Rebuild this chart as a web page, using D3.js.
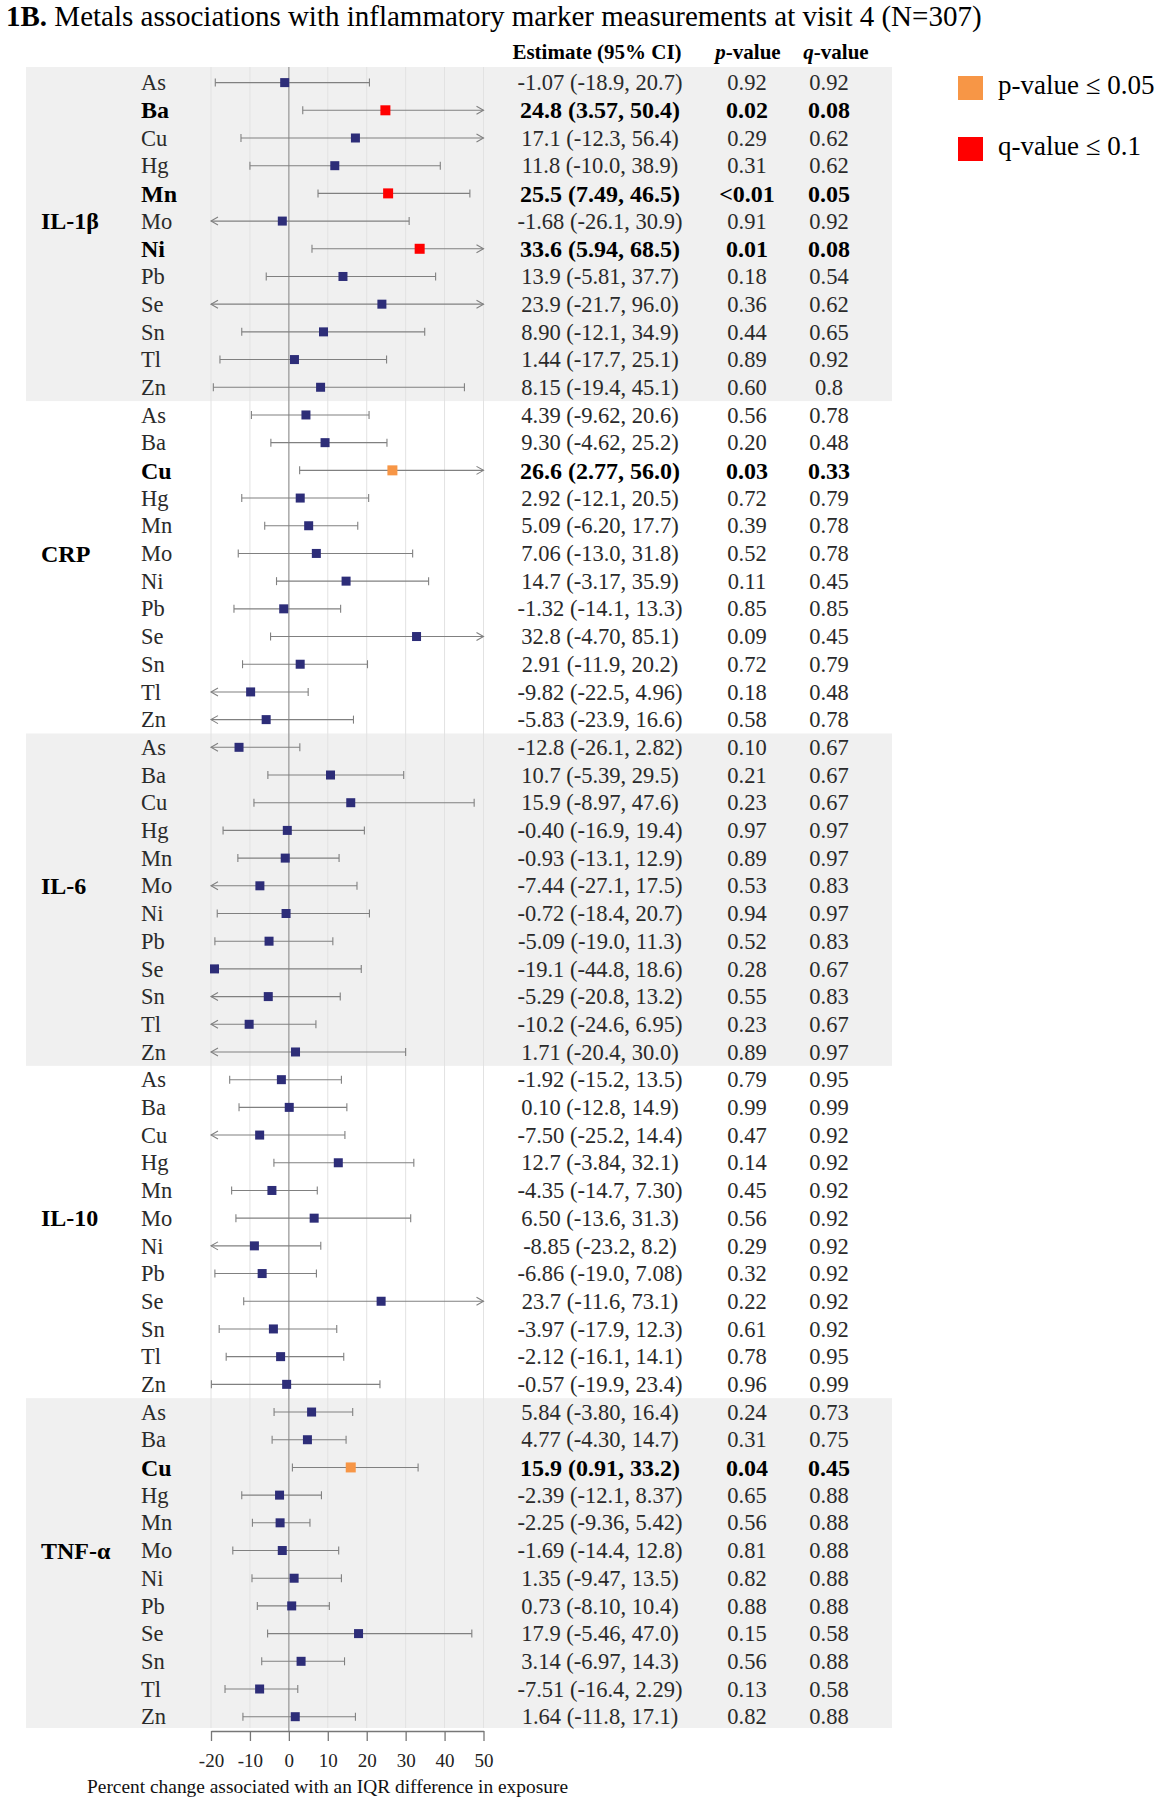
<!DOCTYPE html>
<html>
<head>
<meta charset="utf-8">
<script src="https://cdn.jsdelivr.net/npm/d3@7"></script>
<style>
  html, body { margin: 0; padding: 0; background: #fff; }
  svg { display: block; }
  text { font-family: "Liberation Serif", "Times New Roman", serif; }
</style>
</head>
<body>
<svg id="chart" width="1159" height="1800"></svg>
<script>
// ---------- DATA ----------
const markers = ["IL-1β", "CRP", "IL-6", "IL-10", "TNF-α"];
const metals = ["As", "Ba", "Cu", "Hg", "Mn", "Mo", "Ni", "Pb", "Se", "Sn", "Tl", "Zn"];
const shadedMarkers = ["IL-1β", "IL-6", "TNF-α"];

const estimates = [
  ["-1.07", "24.8", "17.1", "11.8", "25.5", "-1.68", "33.6", "13.9", "23.9", "8.90", "1.44", "8.15"],
  ["4.39", "9.30", "26.6", "2.92", "5.09", "7.06", "14.7", "-1.32", "32.8", "2.91", "-9.82", "-5.83"],
  ["-12.8", "10.7", "15.9", "-0.40", "-0.93", "-7.44", "-0.72", "-5.09", "-19.1", "-5.29", "-10.2", "1.71"],
  ["-1.92", "0.10", "-7.50", "12.7", "-4.35", "6.50", "-8.85", "-6.86", "23.7", "-3.97", "-2.12", "-0.57"],
  ["5.84", "4.77", "15.9", "-2.39", "-2.25", "-1.69", "1.35", "0.73", "17.9", "3.14", "-7.51", "1.64"]
];
const lowers = [
  ["-18.9", "3.57", "-12.3", "-10.0", "7.49", "-26.1", "5.94", "-5.81", "-21.7", "-12.1", "-17.7", "-19.4"],
  ["-9.62", "-4.62", "2.77", "-12.1", "-6.20", "-13.0", "-3.17", "-14.1", "-4.70", "-11.9", "-22.5", "-23.9"],
  ["-26.1", "-5.39", "-8.97", "-16.9", "-13.1", "-27.1", "-18.4", "-19.0", "-44.8", "-20.8", "-24.6", "-20.4"],
  ["-15.2", "-12.8", "-25.2", "-3.84", "-14.7", "-13.6", "-23.2", "-19.0", "-11.6", "-17.9", "-16.1", "-19.9"],
  ["-3.80", "-4.30", "0.91", "-12.1", "-9.36", "-14.4", "-9.47", "-8.10", "-5.46", "-6.97", "-16.4", "-11.8"]
];
const uppers = [
  ["20.7", "50.4", "56.4", "38.9", "46.5", "30.9", "68.5", "37.7", "96.0", "34.9", "25.1", "45.1"],
  ["20.6", "25.2", "56.0", "20.5", "17.7", "31.8", "35.9", "13.3", "85.1", "20.2", "4.96", "16.6"],
  ["2.82", "29.5", "47.6", "19.4", "12.9", "17.5", "20.7", "11.3", "18.6", "13.2", "6.95", "30.0"],
  ["13.5", "14.9", "14.4", "32.1", "7.30", "31.3", "8.2", "7.08", "73.1", "12.3", "14.1", "23.4"],
  ["16.4", "14.7", "33.2", "8.37", "5.42", "12.8", "13.5", "10.4", "47.0", "14.3", "2.29", "17.1"]
];
const pValues = [
  ["0.92", "0.02", "0.29", "0.31", "<0.01", "0.91", "0.01", "0.18", "0.36", "0.44", "0.89", "0.60"],
  ["0.56", "0.20", "0.03", "0.72", "0.39", "0.52", "0.11", "0.85", "0.09", "0.72", "0.18", "0.58"],
  ["0.10", "0.21", "0.23", "0.97", "0.89", "0.53", "0.94", "0.52", "0.28", "0.55", "0.23", "0.89"],
  ["0.79", "0.99", "0.47", "0.14", "0.45", "0.56", "0.29", "0.32", "0.22", "0.61", "0.78", "0.96"],
  ["0.24", "0.31", "0.04", "0.65", "0.56", "0.81", "0.82", "0.88", "0.15", "0.56", "0.13", "0.82"]
];
const qValues = [
  ["0.92", "0.08", "0.62", "0.62", "0.05", "0.92", "0.08", "0.54", "0.62", "0.65", "0.92", "0.8"],
  ["0.78", "0.48", "0.33", "0.79", "0.78", "0.78", "0.45", "0.85", "0.45", "0.79", "0.48", "0.78"],
  ["0.67", "0.67", "0.67", "0.97", "0.97", "0.83", "0.97", "0.83", "0.67", "0.83", "0.67", "0.97"],
  ["0.95", "0.99", "0.92", "0.92", "0.92", "0.92", "0.92", "0.92", "0.92", "0.92", "0.95", "0.99"],
  ["0.73", "0.75", "0.45", "0.88", "0.88", "0.88", "0.88", "0.88", "0.58", "0.88", "0.58", "0.88"]
];
const xTicks = [-20, -10, 0, 10, 20, 30, 40, 50];
const legendItems = ["p-value ≤ 0.05", "q-value ≤ 0.1"];

// ---------- BUILD ROWS ----------
const parseP = s => s.startsWith("<") ? +s.slice(1) / 2 : +s;
const rows = [];
markers.forEach((m, gi) => {
  metals.forEach((metal, mi) => {
    const p = parseP(pValues[gi][mi]);
    const q = +qValues[gi][mi];
    rows.push({
      marker: m, gi, mi, metal,
      est: +estimates[gi][mi], lo: +lowers[gi][mi], hi: +uppers[gi][mi],
      estText: `${estimates[gi][mi]} (${lowers[gi][mi]}, ${uppers[gi][mi]})`,
      pText: pValues[gi][mi], qText: qValues[gi][mi],
      sig: p <= 0.05,
      cls: q <= 0.1 ? "q" : (p <= 0.05 ? "p" : "n")
    });
  });
});
rows.forEach((r, i) => r.idx = i);

// ---------- SCALES ----------
const x = d3.scaleLinear().domain([-20, 50]).range([211, 483.5]);
const y = d3.scaleLinear().domain([0, rows.length - 1]).range([82.6, 1716.7]);
const rowH = y(1) - y(0);
const colour = { q: "#ff0000", p: "#f79646", n: "#2d2d78" };
const lineCol = "#808080";

const svg = d3.select("#chart");
svg.append("rect").attr("width", 1159).attr("height", 1800).attr("fill", "#fff");

// ---------- BANDS ----------
const bandTop = 67, bandBottom = 1728;
const groupExtent = markers.map((m, gi) => {
  const first = gi * metals.length, last = first + metals.length - 1;
  return {
    m,
    top: gi === 0 ? bandTop : y(first) - rowH / 2,
    bottom: gi === markers.length - 1 ? bandBottom : y(last) + rowH / 2
  };
});
svg.append("g").selectAll("rect")
  .data(groupExtent.filter(g => shadedMarkers.includes(g.m)))
  .join("rect")
  .attr("x", 26).attr("width", 892 - 26)
  .attr("y", d => d.top).attr("height", d => d.bottom - d.top)
  .attr("fill", "#f0f0f0");

// ---------- GRID ----------
svg.append("g").selectAll("line")
  .data(xTicks.filter(t => t !== 0))
  .join("line")
  .attr("x1", d => x(d)).attr("x2", d => x(d))
  .attr("y1", bandTop).attr("y2", bandBottom)
  .attr("stroke", "#e2e2e2").attr("stroke-width", 1);

// zero line
svg.append("line")
  .attr("x1", x(0)).attr("x2", x(0))
  .attr("y1", bandTop).attr("y2", 1731)
  .attr("stroke", "#9a9a9a").attr("stroke-width", 1.3);

// ---------- CI LINES ----------
const [dMin, dMax] = x.domain();
const ci = svg.append("g").attr("stroke", lineCol).attr("stroke-width", 1.1).attr("fill", "none");
rows.forEach(r => {
  const yy = y(r.idx);
  const l = Math.max(r.lo, dMin), h = Math.min(r.hi, dMax);
  ci.append("line").attr("x1", x(l)).attr("x2", x(h)).attr("y1", yy).attr("y2", yy);
  if (r.lo < dMin) {
    ci.append("path").attr("d", `M${x(dMin) + 7},${yy - 4}L${x(dMin)},${yy}L${x(dMin) + 7},${yy + 4}`);
  } else {
    ci.append("line").attr("x1", x(l)).attr("x2", x(l)).attr("y1", yy - 4).attr("y2", yy + 4);
  }
  if (r.hi > dMax) {
    ci.append("path").attr("d", `M${x(dMax) - 7},${yy - 4}L${x(dMax)},${yy}L${x(dMax) - 7},${yy + 4}`);
  } else {
    ci.append("line").attr("x1", x(h)).attr("x2", x(h)).attr("y1", yy - 4).attr("y2", yy + 4);
  }
});

// ---------- POINTS ----------
svg.append("g").selectAll("rect")
  .data(rows)
  .join("rect")
  .attr("width", d => d.cls === "n" ? 9 : 10)
  .attr("height", d => d.cls === "n" ? 9 : 10)
  .attr("x", d => x(d.est) - (d.cls === "n" ? 4.5 : 5))
  .attr("y", d => y(d.idx) - (d.cls === "n" ? 4.5 : 5))
  .attr("fill", d => colour[d.cls]);

// ---------- TEXT COLUMNS ----------
const fsReg = 22.5, fsBold = 24;
const tg = svg.append("g");
function styleText(sel) {
  return sel
    .attr("y", d => y(d.idx)).attr("dy", "0.34em")
    .attr("font-weight", d => d.sig ? "bold" : "normal")
    .attr("font-size", d => d.sig ? fsBold : fsReg)
    .attr("fill", d => d.sig ? "#000" : "#2a2a2a");
}
// metal labels
styleText(tg.selectAll("text.metal").data(rows).join("text").attr("class", "metal")
  .attr("x", 141)).text(d => d.metal);
// estimates
styleText(tg.selectAll("text.est").data(rows).join("text").attr("class", "est")
  .attr("x", 600).attr("text-anchor", "middle")).text(d => d.estText);
// p values
styleText(tg.selectAll("text.pv").data(rows).join("text").attr("class", "pv")
  .attr("x", 747).attr("text-anchor", "middle")).text(d => d.pText);
// q values
styleText(tg.selectAll("text.qv").data(rows).join("text").attr("class", "qv")
  .attr("x", 829).attr("text-anchor", "middle")).text(d => d.qText);

// group labels (aligned with the Mo row)
const labelRow = metals.indexOf("Mo");
tg.selectAll("text.grp").data(markers).join("text")
  .attr("class", "grp")
  .attr("x", 41).attr("y", (d, gi) => y(gi * metals.length + labelRow)).attr("dy", "0.34em")
  .attr("font-size", 24)
  .attr("font-weight", "bold").attr("fill", "#000")
  .text(d => d);

// headers
const hdr = svg.append("g").attr("font-size", 21).attr("font-weight", "bold").attr("fill", "#000");
hdr.append("text").attr("x", 597).attr("y", 59).attr("text-anchor", "middle").text("Estimate (95% CI)");
const ph = hdr.append("text").attr("x", 748).attr("y", 59).attr("text-anchor", "middle");
ph.append("tspan").attr("font-style", "italic").text("p");
ph.append("tspan").text("-value");
const qh = hdr.append("text").attr("x", 836).attr("y", 59).attr("text-anchor", "middle");
qh.append("tspan").attr("font-style", "italic").text("q");
qh.append("tspan").text("-value");

// ---------- AXIS ----------
const axis = svg.append("g").attr("transform", "translate(0,1731)")
  .call(d3.axisBottom(x).tickValues(xTicks).tickSize(10).tickSizeOuter(0).tickPadding(13).tickFormat(d3.format("d")));
axis.select(".domain").attr("stroke", "#777").attr("stroke-width", 1.3);
axis.selectAll(".tick line").attr("stroke", "#777").attr("stroke-width", 1.3);
axis.selectAll(".tick text")
  .attr("font-family", "Liberation Serif, serif").attr("font-size", 19).attr("fill", "#222")
  .text(d => d < 0 ? "-" + Math.abs(d) : d);

svg.append("text")
  .attr("x", 87).attr("y", 1793)
  .attr("font-size", 19.4).attr("fill", "#111")
  .text("Percent change associated with an IQR difference in exposure");

// ---------- TITLE ----------
const title = svg.append("text").attr("x", 6).attr("y", 26).attr("font-size", 29).attr("fill", "#000");
title.append("tspan").attr("font-weight", "bold").text("1B.");
title.append("tspan").text(" Metals associations with inflammatory marker measurements at visit 4 (N=307)");

// ---------- LEGEND ----------
const lg = svg.append("g").selectAll("g").data(legendItems).join("g")
  .attr("transform", (d, i) => `translate(958,${76 + i * 61})`);
lg.append("rect").attr("width", 25).attr("height", 24)
  .attr("fill", (d, i) => i === 0 ? colour.p : colour.q);
lg.append("text").attr("x", 40).attr("y", 18).attr("font-size", 27).attr("fill", "#000")
  .text(d => d);
</script>
</body>
</html>
